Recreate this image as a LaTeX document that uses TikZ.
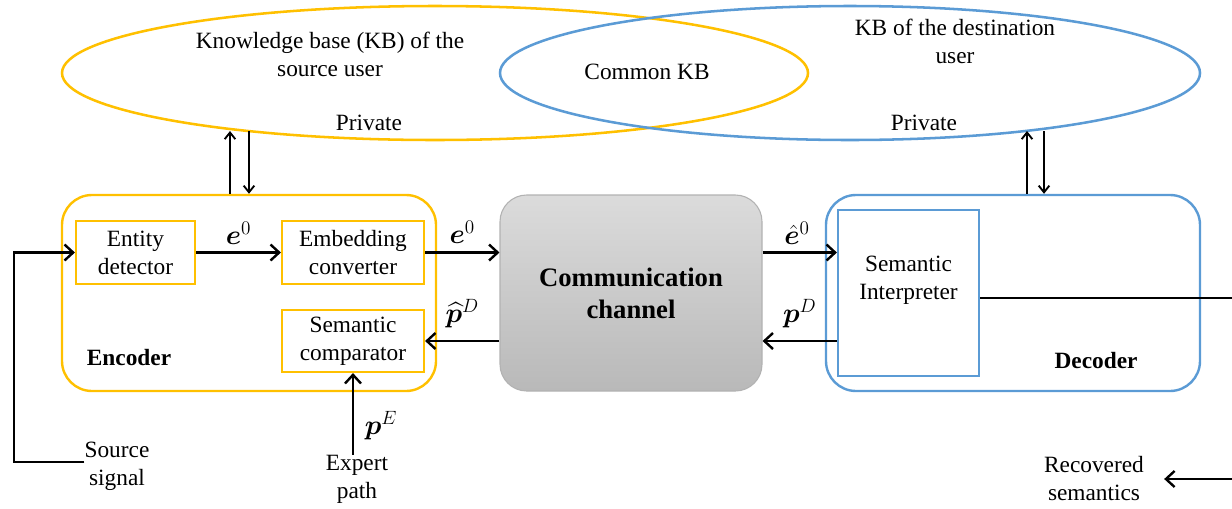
\documentclass[tikz,border=0pt]{standalone}
\usepackage{amsmath,bm}
\usepackage{fontspec}
\setmainfont{Liberation Serif}
\usetikzlibrary{arrows.meta,positioning}
\definecolor{kbyellow}{HTML}{FFC000}
\definecolor{kbblue}{HTML}{5B9BD5}
\tikzset{
  box/.style={draw, line width=1.6pt, minimum height=47.25pt, inner sep=0pt, align=center},
  unit/.style={draw, line width=1.8pt, rounded corners=22.5pt, minimum width=280.5pt, minimum height=147pt},
  txt/.style={inner sep=0pt, align=center},
  sym/.style={inner sep=0pt, font=\fontsize{21}{25}\selectfont},
  link/.style={line width=1.8pt, -{Straight Barb[length=6.5pt,width=12pt,line width=1.8pt]}},
  kblink/.style={line width=1.4pt, -{Straight Barb[length=5pt,width=8pt,line width=1.4pt]}},
}
\begin{document}
\fontsize{17.5}{21}\selectfont
\begin{tikzpicture}[x=0.75pt,y=-0.75pt]
    \useasboundingbox (0,0) rectangle (1232,508);

    \draw[kbyellow, line width=1.9pt] (435,73) ellipse [x radius=373, y radius=67];
    \draw[kbblue, line width=1.9pt] (850,73) ellipse [x radius=350, y radius=67];
    \node[txt] (kbsrc) at (330,54) {Knowledge base (KB) of the\\source user};
    \node[txt] (kbcom) at (647,72) {Common KB};
    \node[txt] (kbdst) at (955,41) {KB of the destination\\user};
    \node[txt] (privsrc) at (369,123) {Private};
    \node[txt] (privdst) at (924,123) {Private};

    \node[unit, draw=kbyellow] (enc) at (249,293) {};
    \node[box, draw=kbyellow, minimum width=89.25pt] (ent) at (135.5,252.5) {Entity\\detector};
    \node[box, draw=kbyellow, minimum width=106.5pt] (emb) at (353,252.5) {Embedding\\converter};
    \node[box, draw=kbyellow, minimum width=106.5pt, minimum height=46.5pt] (comp) at (353,341) {Semantic\\comparator};
    \node[txt, font=\bfseries] (enclab) at (129,358) {Encoder};

    \node[draw=gray!60, line width=0.8pt, rounded corners=20pt, top color=gray!28, bottom color=gray!55,
          minimum width=196.5pt, minimum height=147pt, align=center,
          font=\fontsize{20}{24}\selectfont\bfseries] (chan) at (631,293) {Communication\\channel};

    \node[unit, draw=kbblue] (dec) at (1013,293) {};
    \node[box, draw=kbblue, minimum width=105.75pt, minimum height=124.5pt,
          label={[txt, yshift=9.4pt]center:Semantic\\Interpreter}] (interp) at (908.5,293) {};
    \node[txt, font=\bfseries] (declab) at (1096,361) {Decoder};

    \node[txt] (src) at (117,466) {Source\\signal};
    \node[txt] (exp) at (357,479) {Expert\\path};
    \node[txt] (rec) at (1094,479) {Recovered\\semantics};

    \coordinate (kbL) at (240,131);
    \coordinate (kbR) at (1035,131);
    \coordinate (srcL) at (14,462);
    \coordinate (outR) at (1232,298);
    \coordinate (recR) at (1232,479);

    \draw[kblink] ([xshift=-14.25pt]enc.north) -- ([xshift=-7.5pt]kbL);
    \draw[kblink] ([xshift=6.75pt]kbL) -- (enc.north);
    \draw[kblink] ([xshift=10.5pt]dec.north) -- ([xshift=-6pt]kbR);
    \draw[kblink] ([xshift=6.75pt]kbR) -- ([xshift=23.25pt]dec.north);

    \draw[link] (src.west |- srcL) -- (srcL) |- (ent.west);
    \draw[link] (ent.east) -- node[sym, above=5pt] {$\bm{e}^0$} (emb.west);
    \draw[link] (emb.east) -- node[sym, above=6pt] {$\bm{e}^0$} (emb.east -| chan.west);
    \draw[link] (chan.west |- comp.east) -- node[sym, above=9pt] {$\widehat{\bm{p}}^D$} (comp.east);
    \draw[link] (comp.south |- exp.north) -- node[sym, right=8pt, pos=0.35] {$\bm{p}^E$} (comp.south);
    \draw[link] (chan.east |- emb.east) -- node[sym, above=5pt, xshift=-2pt] {$\hat{\bm{e}}^0$} (interp.west |- emb.east);
    \draw[link] (interp.west |- comp.east) -- node[sym, above=9pt] {$\bm{p}^D$} (chan.east |- comp.east);
    \draw[line width=1.8pt] (interp.east |- outR) -- (outR);
    \draw[link] (recR) -- ([xshift=15pt]rec.east);
\end{tikzpicture}
\end{document}
